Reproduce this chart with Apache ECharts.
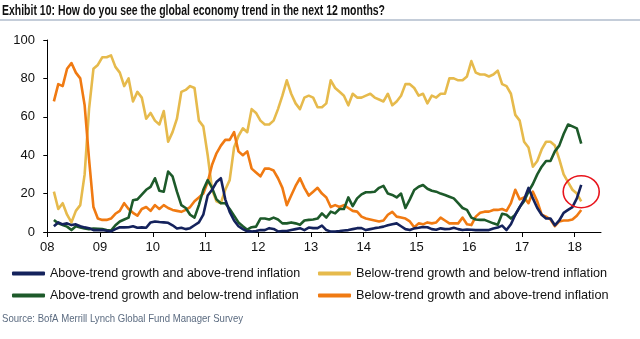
<!DOCTYPE html>
<html><head><meta charset="utf-8">
<script src="https://cdn.jsdelivr.net/npm/echarts@6/dist/echarts.min.js"></script>
<style>html,body{margin:0;padding:0;background:#fff}#c{width:640px;height:339px}</style>
</head><body><div id="c"></div>
<script>
// Monthly survey, Feb 2008 .. Feb 2018 (index 0 = Feb 2008), % of respondents
const startMonth = 1.5; // months after Jan 2008 of the first survey (mid-month)
const yearTicks = [0, 12, 24, 36, 48, 60, 72, 84, 96, 108, 120];
const yearLabels = ['08','09','10','11','12','13','14','15','16','17','18'];
const yTicks = [0, 20, 40, 60, 80, 100];

const aboveAbove = [3,5,4,4.5,3.6,4,3,2.4,2,1,1,1,0.7,0.3,1.5,2.5,2.4,2.5,3,2.2,2.4,2.2,5,5.5,5.2,5,4.8,3.5,1.8,2.2,1.5,2,3.5,5,9,19,22,26,28,17,10.5,6,3,1.5,0.3,0.3,0.5,1,1,2,1.6,0.3,0.5,0.5,1,1.5,2,1,2.3,2,2,3.3,1,0.2,0.3,0.5,0.8,1,1.5,2,2,1,1.5,2,2.3,2.8,3.5,4,4.5,3,1.5,1,1.9,2.2,2.6,2.5,1.5,1.2,1.9,1.5,1.6,2.2,1.5,1,1.3,1.2,1,1,1,1,1.8,2.3,3.3,1,4,9,13,17,23,17.5,12.5,9,7,7,3.5,6,10,11.5,13,17.5,24.5];
const belowBelow = [21,12,15,9,5,11,14,30,64,85,87,91,91,92,86,83,76,80,68,73,70,59,62,58,56,63,47,52,59,73,74,76,75,58,55,40,22,16,15,22,27,44,50,54,52,64,62,58,56,56,58,64,71,79,72,67,64,70,71,70,65,65,67,79,75,73,71,66,72,70,70,71,72,70,69,68,72,66,68,71,77,77,75,71,72,67,71,70,72,72,80,80,79,79,81,89,83,82,82,81,82,84,77,76,72,61,58,47,44,34,37,43,47,47,45,38,30,26,22,20,16];
const aboveBelow = [6.3,4.5,3.6,2.8,1,3,2.4,1.8,1.5,1.8,1.7,1.5,1,0.7,3.5,5.5,6.5,7.5,16.5,17,19.5,22,23.5,28,21.5,21,31.5,29,21,14,12.5,9,7.5,14,22,27,23,17,15,15,12,8.5,5,3,1.2,2.5,2.8,7,7,6.5,7.5,6.5,4.5,4.5,5,4.5,3.8,6,6.3,6.5,7,9.7,7.5,10.6,9.7,12,12,18,13.5,17.5,19.6,20.7,20.7,21,23,24,20,19.3,18,20,12.5,17,21.9,23.6,24.5,22.5,21.5,21,20,19.3,18.4,17.5,15,12.5,11.5,7.5,6.5,6.3,6.3,5.4,4.5,3.8,9.5,9,7,9,13,16,21,25,30,34,37,37,42,45,51,56,55,54,46];
const belowAbove = [68,77,76,85,88,83,80,66,38,13,7,6.3,6.3,7,9.5,11,15,12,10,8.5,12,13,11,14,12,14,12.5,11.5,11,10.5,11.5,13,16,18,20,26,35,41,45,48,48,52,42,40,42,33,31,29,33,33,32,28,23,14,19,24,28,23,19,21,23,20,18,13,14,13,14,12.5,11,10.6,8,7,6.5,6,5.5,6,9,10.5,8,7.5,7,5.5,2.5,4.5,4,5,4.5,5,7.5,6,4.5,4.5,4.5,7.5,4,3.6,8,10,10.6,10.6,11.5,11.5,12,11,15,22,17,18,15,21,16,9,8,6.5,3,5.5,6,6,6.5,8.5,11.5];

const names = [
  'Above-trend growth and above-trend inflation',
  'Below-trend growth and below-trend inflation',
  'Above-trend growth and below-trend inflation',
  'Below-trend growth and above-trend inflation'
];
const colors = ['#14225c', '#e6ba4c', '#1d5a2a', '#f07a12'];
const titleText = 'Exhibit 10: How do you see the global economy trend in the next 12 months?';
const sourceText = 'Source: BofA Merrill Lynch Global Fund Manager Survey';
// annotation circle around the latest reading
const circlePoint = [startMonth + 120, 21];

function toXY(arr){ return arr.map((v,i)=>[startMonth + i, v]); }

function measure(text, font){
  const c = document.createElement('canvas').getContext('2d');
  c.font = font; return c.measureText(text).width;
}
const FF = '"Liberation Sans", Arial, sans-serif';
const titleFont = 'bold 15px "Liberation Sans", Arial, sans-serif';
const srcFont = '11px "Liberation Sans", Arial, sans-serif';
const titleScale = 383 / measure(titleText, titleFont);
const srcScale = 241 / measure(sourceText, srcFont);

const chart = echarts.init(document.getElementById('c'), null, {renderer:'canvas'});
const lineSeries = (name, data, color, z) => ({
  name, type:'line', data: toXY(data), showSymbol:false, symbol:'none',
  lineStyle:{color, width:2.6, join:'round'}, itemStyle:{color}, z, animation:false
});
const legendBase = {
  orient:'vertical', itemWidth:33, itemHeight:4, icon:'roundRect', itemGap:9, padding:0,
  textStyle:{fontSize:12.5, color:'#111', fontFamily:FF},
  selectedMode:false
};
chart.setOption({
  animation:false,
  grid:{left:44, right:39, top:40, bottom:107},
  xAxis:{
    type:'value', min:-0.75, max:126,
    axisLine:{show:true, lineStyle:{color:'#000', width:1}},
    axisTick:{show:true, length:5, lineStyle:{color:'#000'}, customValues:yearTicks},
    axisLabel:{customValues:yearTicks, formatter:v=>yearLabels[yearTicks.indexOf(Math.round(v))] || '',
      fontSize:13, color:'#111', margin:9, fontFamily:FF},
    splitLine:{show:false}
  },
  yAxis:{
    type:'value', min:0, max:100, interval:20,
    axisLine:{show:true, lineStyle:{color:'#000', width:1}},
    axisTick:{show:true, length:4, lineStyle:{color:'#000'}},
    axisLabel:{fontSize:13, color:'#111', margin:9, fontFamily:FF},
    splitLine:{show:false}
  },
  legend:[
    Object.assign({left:12, top:267, data:[names[0], names[2]]}, legendBase),
    Object.assign({left:318, top:267, data:[names[1], names[3]], textStyle:{fontSize:12.7, color:'#111', fontFamily:FF}}, {
      orient:'vertical', itemWidth:33, itemHeight:4, icon:'roundRect', itemGap:9, padding:0, selectedMode:false})
  ],
  series:[
    lineSeries(names[1], belowBelow, colors[1], 2),
    lineSeries(names[3], belowAbove, colors[3], 3),
    lineSeries(names[2], aboveBelow, colors[2], 4),
    lineSeries(names[0], aboveAbove, colors[0], 5)
  ]
});
const cp = chart.convertToPixel({gridIndex:0}, circlePoint);
chart.setOption({
  graphic:[
    {type:'text', left:2, top:3, scaleX:titleScale, originX:0,
      style:{text:titleText, font:titleFont, fill:'#111'}},
    {type:'line', shape:{x1:0, y1:20, x2:640, y2:20}, style:{stroke:'#8a9cb3', lineWidth:1.2}},
    {type:'text', left:2, top:313, scaleX:srcScale,
      style:{text:sourceText, font:srcFont, fill:'#5b6b80'}},
    {type:'ellipse', shape:{cx:cp[0], cy:cp[1], rx:18, ry:16}, z:20,
      style:{fill:'none', stroke:'#e8141c', lineWidth:1.6}}
  ]
});
</script></body></html>
